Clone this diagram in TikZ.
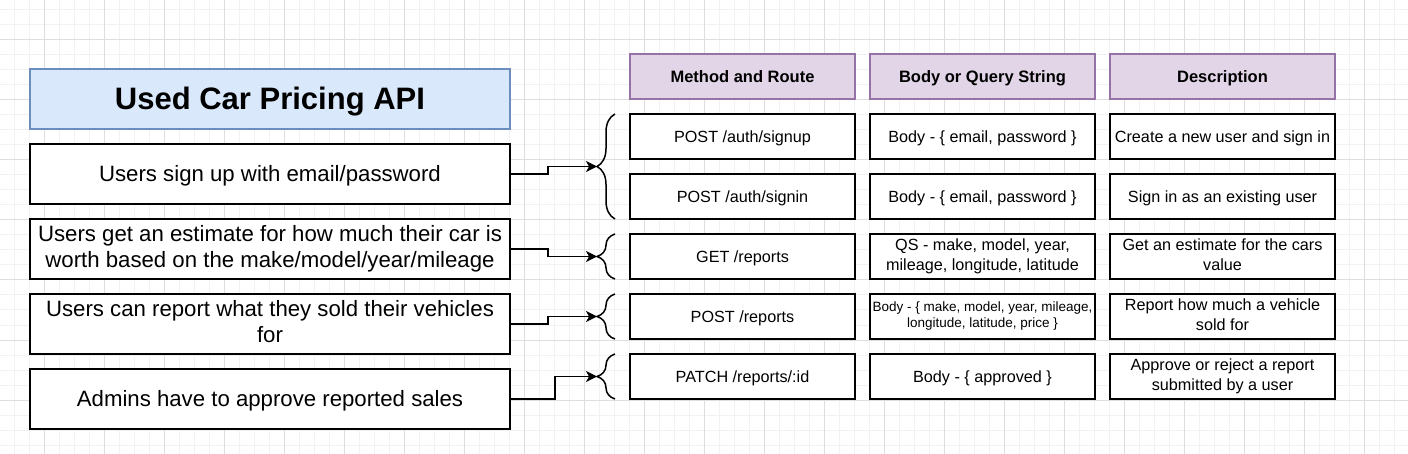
\documentclass[tikz,border=0pt]{standalone}
\usepackage{fontspec}
\setmainfont{Liberation Sans}
\usetikzlibrary{positioning,arrows.meta,decorations.pathreplacing,calc}
\definecolor{titlefill}{HTML}{DAE8FC}
\definecolor{titleline}{HTML}{6C8EBF}
\definecolor{headfill}{HTML}{E1D5E7}
\definecolor{headline}{HTML}{9673A6}
\definecolor{gridminor}{HTML}{F2F2F2}
\definecolor{gridmajor}{HTML}{DEDEDE}
\newcommand{\linestrut}{\rule[-0.212em]{0pt}{1.117em}}

\begin{document}
\begin{tikzpicture}[x=1pt, y=-1pt, node distance=15pt]
    \tikzstyle{boxtext} = [execute at begin node=\linestrut, execute at end node=\linestrut]
    \tikzstyle{titlebox} = [rectangle, boxtext, minimum width=480pt, minimum height=60pt, outer sep=0pt, draw=titleline, fill=titlefill, line width=1.5pt, font=\fontsize{31}{36}\selectfont\bfseries]
    \tikzstyle{feature} = [rectangle, boxtext, minimum width=480pt, minimum height=60pt, inner sep=1pt, outer sep=0pt, align=center, draw=black, fill=white, line width=1.5pt, font=\fontsize{22.2}{26}\selectfont]
    \tikzstyle{headcell} = [rectangle, boxtext, minimum width=225pt, minimum height=45pt, outer sep=0pt, draw=headline, fill=headfill, line width=1.5pt, font=\fontsize{16.5}{20}\selectfont\bfseries]
    \tikzstyle{cell} = [rectangle, boxtext, minimum width=225pt, minimum height=45pt, inner sep=1pt, outer sep=0pt, align=center, draw=black, fill=white, line width=1.5pt, font=\fontsize{16.2}{20}\selectfont]
    \tikzstyle{smallcell} = [cell, font=\fontsize{13.5}{16}\selectfont]
    \tikzstyle{bracket} = [decorate, decoration={brace, amplitude=18pt}, line width=1.5pt]
    \tikzstyle{link} = [-{Stealth[length=11pt, width=11pt, inset=3pt]}, line width=1.5pt]

    % Canvas and grid
    \useasboundingbox (0,0) rectangle (1408,454);
    \fill[white] (0,0) rectangle (1408,454);
    \foreach \gx in {14,29,...,1404} \draw[gridminor, line width=1pt] (\gx,0) -- (\gx,454);
    \foreach \gy in {10,25,...,450} \draw[gridminor, line width=1pt] (0,\gy) -- (1408,\gy);
    \foreach \gx in {44,104,...,1364} \draw[gridmajor, line width=1pt] (\gx,0) -- (\gx,454);
    \foreach \gy in {40,100,...,400} \draw[gridmajor, line width=1pt] (0,\gy) -- (1408,\gy);

    % Requirements
    \node [titlebox] (title) at (270,99) {Used Car Pricing API};
    \node [feature, below=of title] (signup) {Users sign up with email/password};
    \node [feature, below=of signup] (estimate) {Users get an estimate for how much their car is\\worth based on the make/model/year/mileage};
    \node [feature, below=of estimate] (report) {Users can report what they sold their vehicles\\for};
    \node [feature, below=of report] (approve) {Admins have to approve reported sales};

    % Table header
    \node [headcell] (hroute) at (742.5,76.5) {Method and Route};
    \node [headcell, right=of hroute] (hbody) {Body or Query String};
    \node [headcell, right=of hbody] (hdesc) {Description};

    % Routes
    \node [cell, below=of hroute] (route1) {POST /auth/signup};
    \node [cell, below=of route1] (route2) {POST /auth/signin};
    \node [cell, below=of route2] (route3) {GET /reports};
    \node [cell, below=of route3] (route4) {POST /reports};
    \node [cell, below=of route4] (route5) {PATCH /reports/:id};

    % Bodies
    \node [cell, below=of hbody] (body1) {Body - \{ email, password \}};
    \node [cell, below=of body1] (body2) {Body - \{ email, password \}};
    \node [cell, below=of body2] (body3) {QS - make, model, year,\\mileage, longitude, latitude};
    \node [smallcell, below=of body3] (body4) {Body - \{ make, model, year, mileage,\\longitude, latitude, price \}};
    \node [cell, below=of body4] (body5) {Body - \{ approved \}};

    % Descriptions
    \node [cell, below=of hdesc] (desc1) {Create a new user and sign in};
    \node [cell, below=of desc1] (desc2) {Sign in as an existing user};
    \node [cell, below=of desc2] (desc3) {Get an estimate for the cars\\value};
    \node [cell, below=of desc3] (desc4) {Report how much a vehicle\\sold for};
    \node [cell, below=of desc4] (desc5) {Approve or reject a report\\submitted by a user};

    % Braces
    \draw [bracket] ([xshift=-15pt]route2.south west) -- ([xshift=-15pt]route1.north west);
    \draw [bracket] ([xshift=-15pt]route3.south west) -- ([xshift=-15pt]route3.north west);
    \draw [bracket] ([xshift=-15pt]route4.south west) -- ([xshift=-15pt]route4.north west);
    \draw [bracket] ([xshift=-15pt]route5.south west) -- ([xshift=-15pt]route5.north west);
    \coordinate (tip1) at ($(route1.north west)!.5!(route2.south west)+(-33,0)$);
    \coordinate (tip2) at ($(route3.west)+(-33,0)$);
    \coordinate (tip3) at ($(route4.west)+(-33,0)$);
    \coordinate (tip4) at ($(route5.west)+(-33,0)$);

    % Arrows
    \draw [link] (signup.east) -- ++(38,0) |- (tip1);
    \draw [link] (estimate.east) -- ++(38,0) |- (tip2);
    \draw [link] (report.east) -- ++(38,0) |- (tip3);
    \draw [link] (approve.east) -- ++(45,0) |- (tip4);
\end{tikzpicture}
\end{document}
